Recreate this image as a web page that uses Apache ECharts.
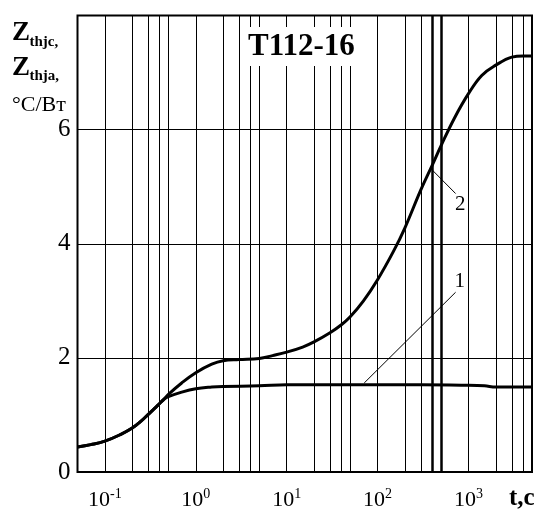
<!DOCTYPE html>
<html>
<head>
<meta charset="utf-8">
<script src="https://cdn.jsdelivr.net/npm/echarts@6/dist/echarts.min.js"></script>
<style>
  html, body { margin:0; padding:0; background:#fff; }
  #chart { width:544px; height:511px; }
</style>
</head>
<body>
<div id="chart"></div>
<script>
// кривая 1 — Zthjc
const tJc = [0.05, 0.07, 0.1, 0.15, 0.2, 0.25, 0.3, 0.35, 0.4, 0.45, 0.5, 0.7, 1, 1.5, 2, 5, 10, 50, 300, 1000, 1500, 2000, 5000];
const zJc = [0.44, 0.48, 0.54, 0.66, 0.77, 0.89, 1.01, 1.11, 1.20, 1.28, 1.32, 1.40, 1.46, 1.49, 1.50, 1.51, 1.53, 1.53, 1.53, 1.52, 1.51, 1.49, 1.49];
// кривая 2 — Zthja
const tJa = [0.05, 0.07, 0.1, 0.15, 0.2, 0.25, 0.3, 0.35, 0.4, 0.45, 0.5, 0.7, 1, 1.5, 2, 3, 5, 7, 10, 15, 20, 30, 40, 50, 70, 100, 150, 200, 300, 400, 500, 700, 1000, 1400, 2000, 3000, 4000, 5000];
const zJa = [0.44, 0.48, 0.54, 0.66, 0.77, 0.89, 1.01, 1.11, 1.20, 1.28, 1.36, 1.56, 1.74, 1.89, 1.95, 1.97, 1.99, 2.04, 2.10, 2.19, 2.28, 2.44, 2.58, 2.72, 3.00, 3.37, 3.87, 4.28, 4.95, 5.38, 5.72, 6.20, 6.63, 6.95, 7.13, 7.27, 7.29, 7.29];

// вертикальная сетка: 1..5 в каждой декаде
const gridTimes = [0.1, 0.2, 0.3, 0.4, 0.5, 1, 2, 3, 4, 5, 10, 20, 30, 40, 50, 100, 200, 300, 1000, 2000, 3000, 4000];
const boldTimes = [400, 500];

// выноски
const leaders = [
  {name:'2', from:[384, 5.32], to:[722, 4.88], label:[811, 4.69]},
  {name:'1', from:[71.3, 1.56], to:[722, 3.15], label:[801, 3.34]}
];

const serif = '"Liberation Serif", "Times New Roman", serif';
const chart = echarts.init(document.getElementById('chart'));

chart.setOption({
  animation: false,
  grid: {left:77.5, right:12, top:15.5, bottom:38.5, show:true, borderColor:'#000', borderWidth:2, backgroundColor:'transparent'},
  xAxis: {
    type:'log', logBase:10, min:0.05, max:5000,
    axisLine:{show:false}, axisTick:{show:false}, splitLine:{show:false},
    axisLabel:{
      margin:15, color:'#000', fontFamily:serif,
      formatter: v => {
        const l = Math.log10(v);
        if (Math.abs(l - Math.round(l)) > 1e-6) return '';
        return '{b|10}{s|' + Math.round(l) + '}';
      },
      rich:{
        b:{fontSize:22, fontFamily:serif, color:'#000', lineHeight:24, verticalAlign:'bottom'},
        s:{fontSize:14, fontFamily:serif, color:'#000', lineHeight:24, verticalAlign:'top'}
      }
    }
  },
  yAxis: {
    type:'value', min:0, max:8, interval:2,
    axisLine:{show:false}, axisTick:{show:false},
    splitLine:{lineStyle:{color:'#000', width:1}},
    axisLabel:{fontSize:25, fontFamily:serif, color:'#000', margin:7, formatter: v => v === 8 ? '' : v}
  },
  title: {
    text:'T112-16', left:245, top:27, backgroundColor:'#fff', padding:[4,3,4,3],
    textStyle:{fontSize:31, fontWeight:'bold', fontFamily:serif, color:'#000'}
  },
  graphic: [
    {type:'text', x:12, y:33.5, style:{text:'Z', fontSize:27, fontWeight:'bold', fontFamily:serif, fill:'#000', verticalAlign:'middle'}},
    {type:'text', x:29.5, y:42.5, style:{text:'thjc,', fontSize:15, fontWeight:'bold', fontFamily:serif, fill:'#000', verticalAlign:'middle'}},
    {type:'text', x:12, y:67.7, style:{text:'Z', fontSize:27, fontWeight:'bold', fontFamily:serif, fill:'#000', verticalAlign:'middle'}},
    {type:'text', x:29.5, y:76.5, style:{text:'thja,', fontSize:15, fontWeight:'bold', fontFamily:serif, fill:'#000', verticalAlign:'middle'}},
    {type:'text', x:12, y:105, style:{text:'°C/Вт', fontSize:22, fontFamily:serif, fill:'#000', verticalAlign:'middle'}},
    {type:'text', x:509, y:499, style:{text:'t,c', fontSize:25, fontWeight:'bold', fontFamily:serif, fill:'#000', verticalAlign:'middle'}}
  ],
  series: [
    {
      type:'line', data:[], z:1, silent:true,
      markLine:{
        silent:true, symbol:'none', animation:false, label:{show:false},
        data: gridTimes.map(t => ({xAxis:t, lineStyle:{color:'#000', width:1, type:'solid'}}))
          .concat(boldTimes.map(t => ({xAxis:t, lineStyle:{color:'#000', width:2.5, type:'solid'}})))
      }
    },
    {
      type:'line', data:[], z:4, silent:true,
      markLine:{
        silent:true, symbol:'none', animation:false, label:{show:false},
        lineStyle:{color:'#000', width:1, type:'solid'},
        data: leaders.map(d => [{coord:d.from}, {coord:d.to}])
      },
      markPoint:{
        silent:true, symbol:'circle', symbolSize:1, itemStyle:{color:'rgba(0,0,0,0)'},
        label:{show:true, position:'inside', fontSize:21, fontFamily:serif, color:'#000', formatter: p => p.name},
        data: leaders.map(d => ({name:d.name, coord:d.label}))
      }
    },
    {
      name:'1', type:'line', z:3, smooth:0.4, symbol:'none',
      lineStyle:{color:'#000', width:3},
      data: tJc.map((t, i) => [t, zJc[i]])
    },
    {
      name:'2', type:'line', z:3, smooth:0.4, symbol:'none',
      lineStyle:{color:'#000', width:3},
      data: tJa.map((t, i) => [t, zJa[i]])
    }
  ]
});
</script>
</body>
</html>
